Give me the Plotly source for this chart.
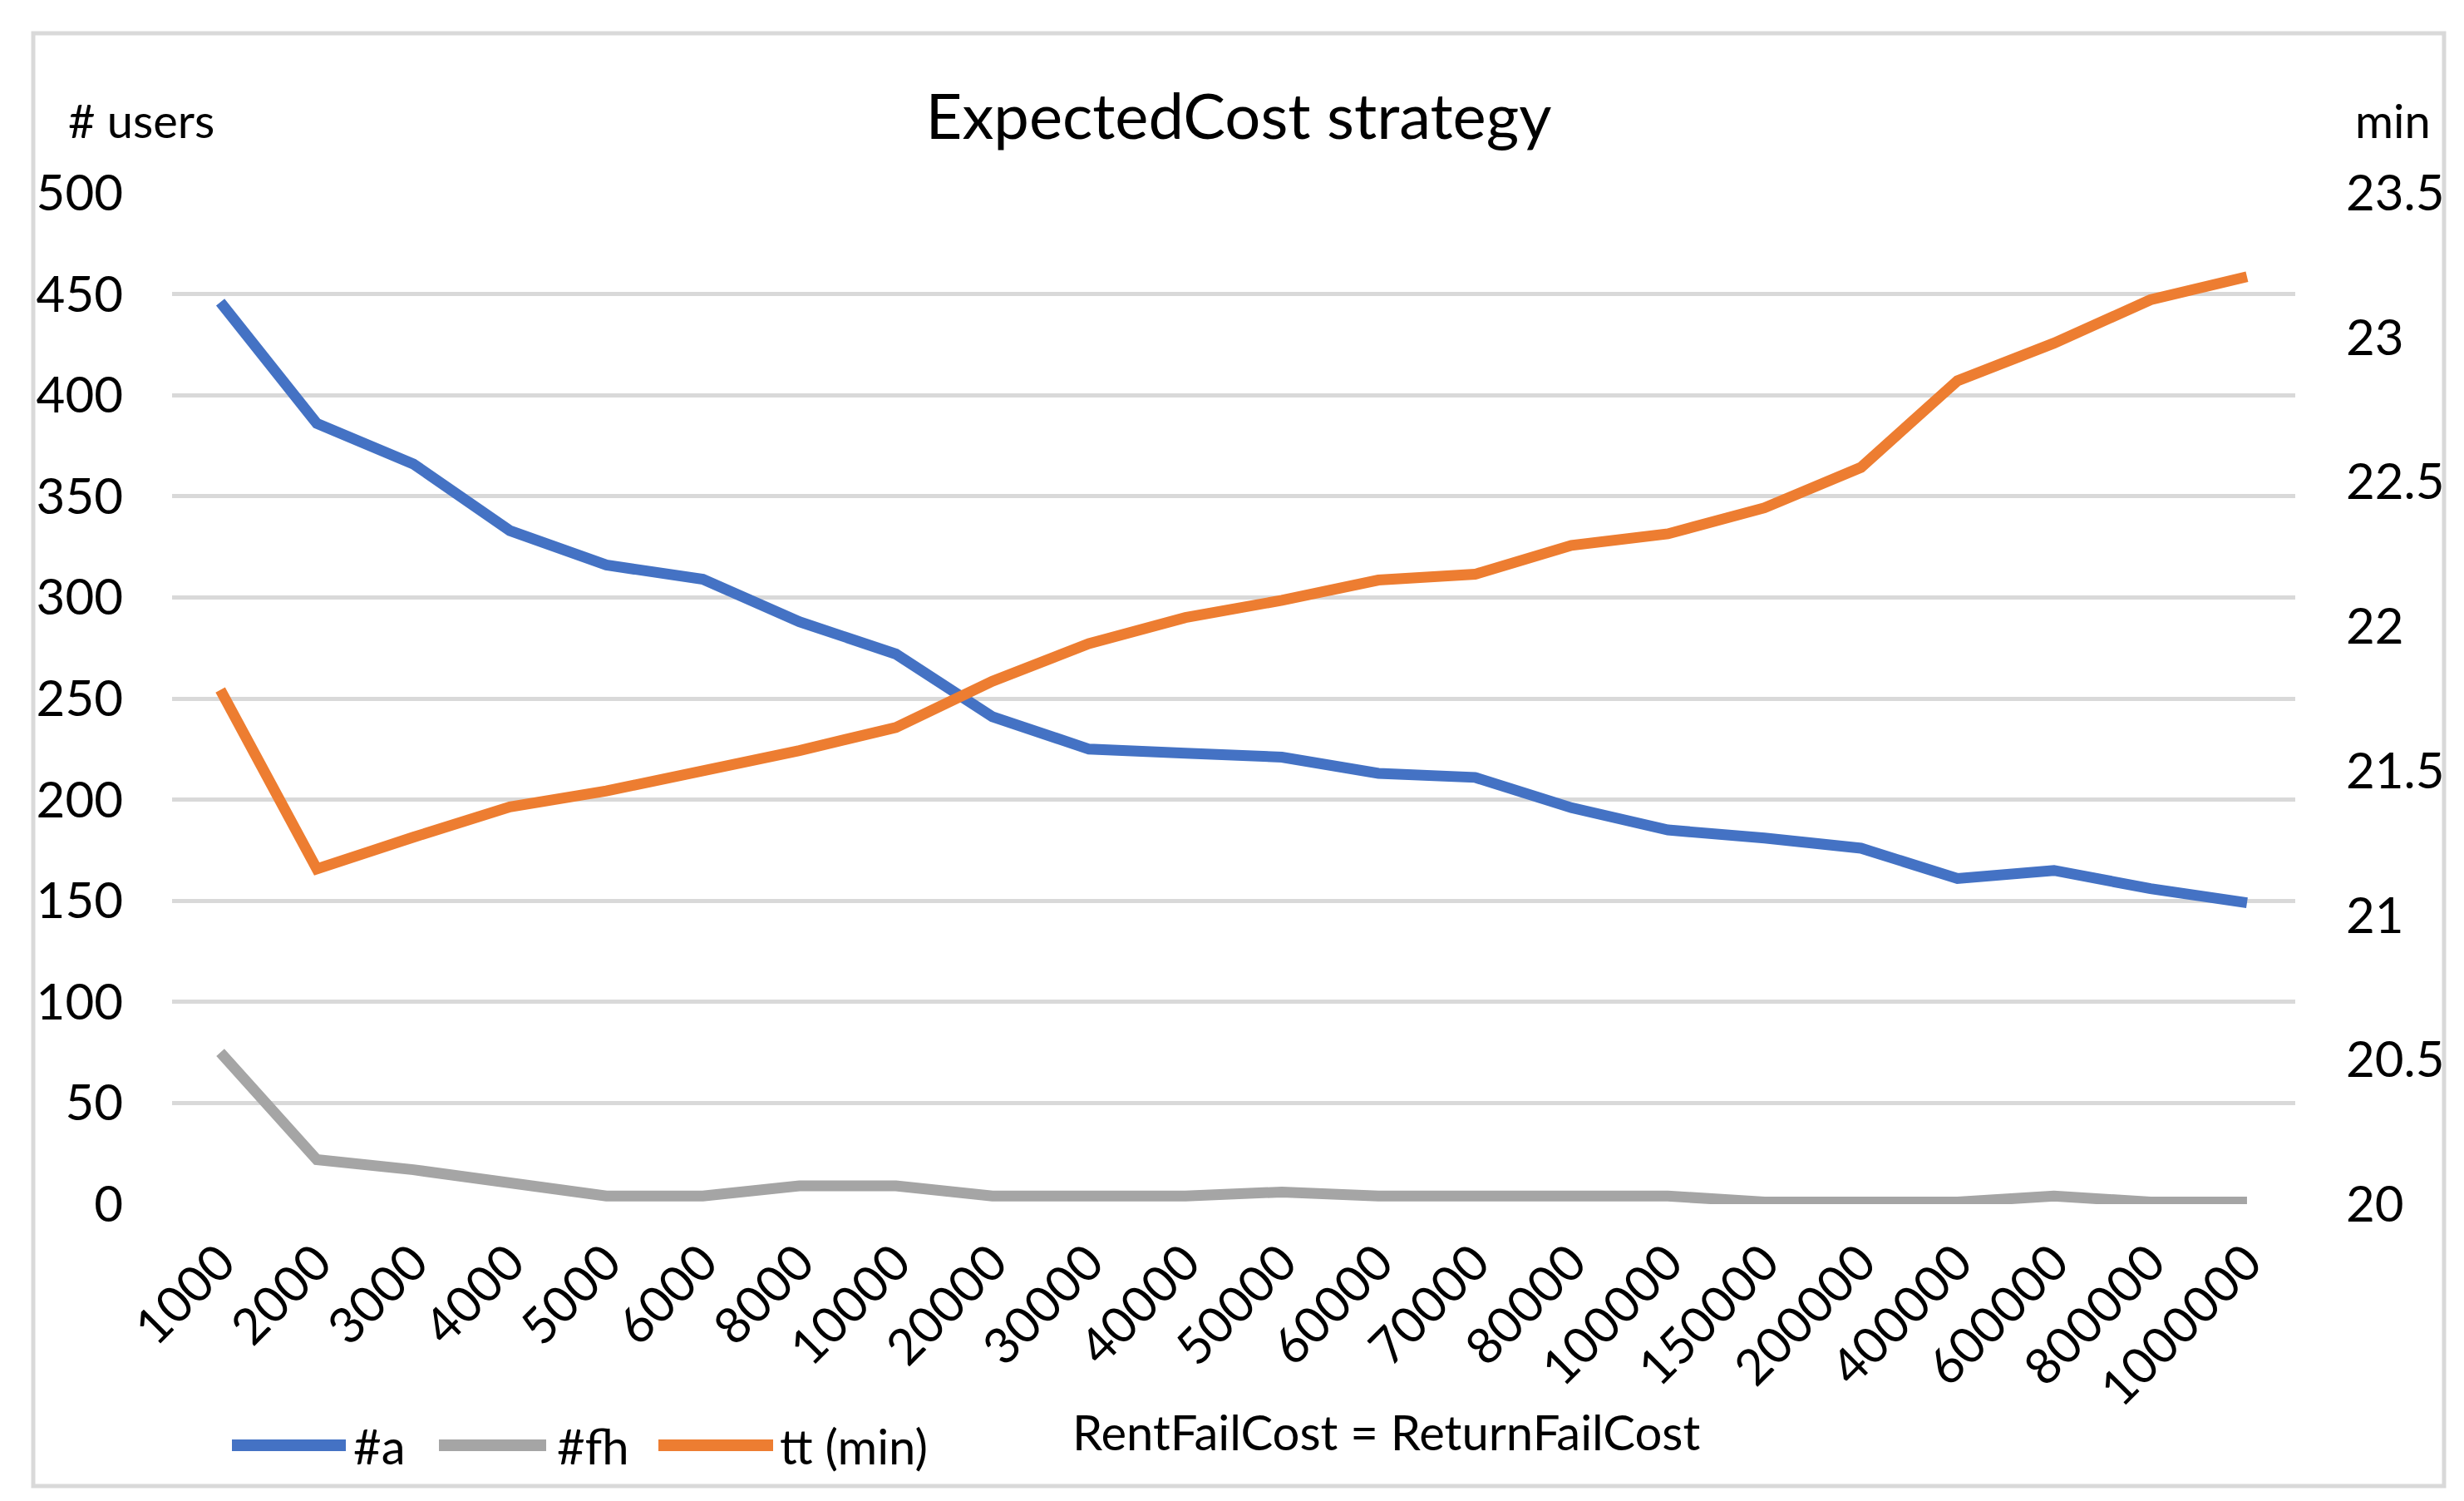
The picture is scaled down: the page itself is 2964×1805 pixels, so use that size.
import plotly.graph_objects as go

# ---------------- data ----------------
categories = ["1000", "2000", "3000", "4000", "5000", "6000", "8000", "10000",
              "20000", "30000", "40000", "50000", "60000", "70000", "80000",
              "100000", "150000", "200000", "400000", "600000", "800000", "1000000"]

series_a = [446, 386, 366, 333, 316, 309, 288, 272, 241, 225, 223, 221, 213, 211,
            196, 185, 181, 176, 161, 165, 156, 149]

series_fh = [75, 22, 17, 11, 4, 4, 9, 9, 4, 4, 4, 6, 4, 4, 4, 4, 1, 1, 1, 4, 1, 1]

series_tt = [21.78, 21.16, 21.27, 21.375, 21.43, 21.50, 21.57, 21.65, 21.81, 21.94,
             22.03, 22.09, 22.16, 22.18, 22.28, 22.32, 22.41, 22.55, 22.85, 22.98,
             23.13, 23.21]

left_ticks = [0, 50, 100, 150, 200, 250, 300, 350, 400, 450, 500]
right_ticks = [20, 20.5, 21, 21.5, 22, 22.5, 23, 23.5]

title_text = "ExpectedCost strategy"
left_unit = "# users"
right_unit = "min"
note_text = "RentFailCost = ReturnFailCost"
names = ["#a", "#fh", "tt (min)"]
colors = ["#4472C4", "#A5A5A5", "#ED7D31"]

# ---------------- layout geometry (pixels) ----------------
W, H = 2964, 1805
L, R, T, B = 199, 2753, 224, 1440
FONT = "Lato"


def px(x):
    return (x - L) / (R - L)


def py(y):
    return (B - y) / (B - T)


fig = go.Figure()
fig.add_trace(go.Scatter(x=categories, y=series_a, name=names[0], mode="lines",
                         line=dict(color=colors[0], width=13), yaxis="y",
                         showlegend=False))
fig.add_trace(go.Scatter(x=categories, y=series_fh, name=names[1], mode="lines",
                         line=dict(color=colors[1], width=13), yaxis="y",
                         showlegend=False))
fig.add_trace(go.Scatter(x=categories, y=series_tt, name=names[2], mode="lines",
                         line=dict(color=colors[2], width=13), yaxis="y2",
                         showlegend=False))

shapes = [
    # outer chart border
    dict(type="rect", xref="paper", yref="paper",
         x0=px(32), x1=px(2932), y0=py(1779), y1=py(32),
         line=dict(color="#D9D9D9", width=5), fillcolor="rgba(0,0,0,0)", layer="below"),
]
annotations = [
    dict(text=left_unit, xref="paper", yref="paper", x=px(72), y=py(137),
         xanchor="left", yanchor="middle", showarrow=False,
         font=dict(family=FONT, size=56, color="black")),
    dict(text=right_unit, xref="paper", yref="paper", x=px(2823), y=py(137),
         xanchor="left", yanchor="middle", showarrow=False,
         font=dict(family=FONT, size=56, color="black")),
    dict(text=note_text, xref="paper", yref="paper", x=px(1280), y=py(1713),
         xanchor="left", yanchor="middle", showarrow=False,
         font=dict(family=FONT, size=58, color="black")),
]

# manual legend (long line swatches like the original)
legend_items = [(271, 408, 415), (520, 649, 660), (784, 922, 928)]
for (x0, x1, tx), name, col in zip(legend_items, names, colors):
    shapes.append(dict(type="line", xref="paper", yref="paper",
                       x0=px(x0), x1=px(x1), y0=py(1730), y1=py(1730),
                       line=dict(color=col, width=14)))
    annotations.append(dict(text=name, xref="paper", yref="paper", x=px(tx), y=py(1730),
                            xanchor="left", yanchor="middle", showarrow=False,
                            font=dict(family=FONT, size=58, color="black")))

fig.update_layout(
    width=W, height=H,
    margin=dict(l=L, r=W - R, t=T, b=H - B, autoexpand=False),
    paper_bgcolor="white", plot_bgcolor="white",
    font=dict(family=FONT, size=60, color="black"),
    title=dict(text=title_text, x=0.5, xref="container", xanchor="center",
               y=1 - 132 / H, yref="container", yanchor="middle",
               font=dict(family=FONT, size=76, color="black")),
    xaxis=dict(type="category", categoryorder="array", categoryarray=categories,
               range=[-0.5, len(categories) - 0.5], tickangle=-45,
               showgrid=False, showline=False, zeroline=False, ticks="",
               tickfont=dict(family=FONT, size=60, color="black"),
               ticklabelstandoff=22, automargin=False),
    yaxis=dict(range=[0, 500], tickvals=left_ticks, showgrid=True,
               gridcolor="#D9D9D9", gridwidth=5, zeroline=False, showline=False,
               ticks="", tickfont=dict(family=FONT, size=60, color="black"),
               ticklabelstandoff=58, automargin=False),
    yaxis2=dict(range=[20, 23.5], tickvals=right_ticks, overlaying="y", side="right",
                showgrid=False, zeroline=False, showline=False, ticks="",
                tickfont=dict(family=FONT, size=60, color="black"),
                ticklabelstandoff=60, automargin=False),
    shapes=shapes,
    annotations=annotations,
)

fig.write_html("out.html")
